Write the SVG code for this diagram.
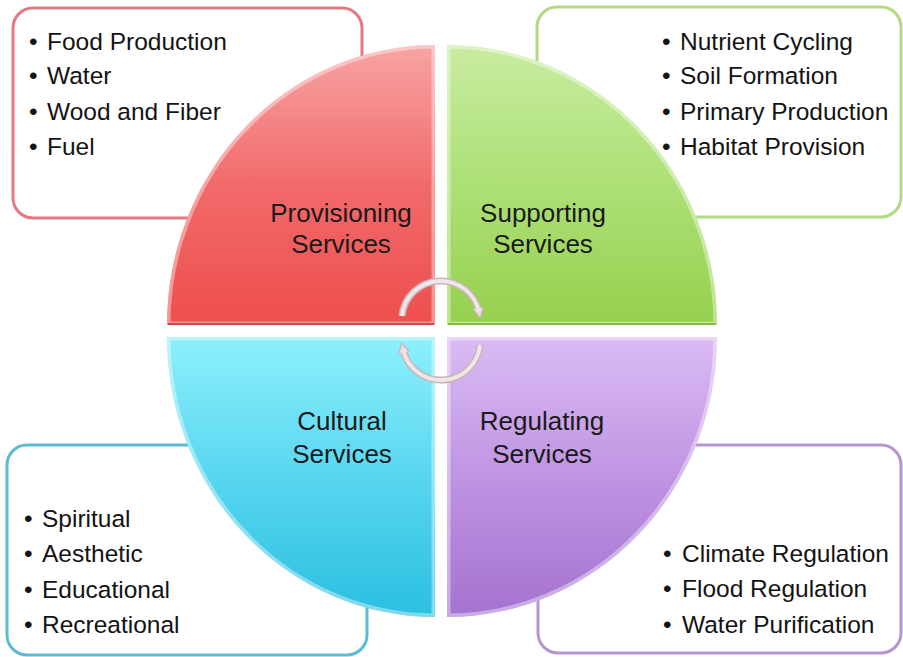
<svg xmlns="http://www.w3.org/2000/svg" width="903" height="657" viewBox="0 0 903 657">
<style>
.box{fill:#ffffff;stroke-width:3}
.item{font-family:"Liberation Sans",Arial,sans-serif;font-size:24.5px;fill:#131313}
.label{font-family:"Liberation Sans",Arial,sans-serif;font-size:26px;fill:#1a1a1a;text-anchor:middle}
.bevel{fill:none;stroke:#ffffff;stroke-opacity:0.4;stroke-width:7}
.arc-out{fill:none;stroke:#c9b4b8;stroke-width:7;stroke-linecap:butt}
.arc-in{fill:none;stroke:#efe6e8;stroke-width:4;stroke-linecap:butt}
</style>
<defs>
<linearGradient id="gRed" x1="0" y1="0" x2="0" y2="1">
<stop offset="0" stop-color="#f8a4a4"/><stop offset="0.5" stop-color="#f26a6a"/><stop offset="1" stop-color="#ee4e4e"/>
</linearGradient>
<linearGradient id="gGreen" x1="0" y1="0" x2="0" y2="1">
<stop offset="0" stop-color="#c8eca0"/><stop offset="0.5" stop-color="#ade076"/><stop offset="1" stop-color="#96d04e"/>
</linearGradient>
<linearGradient id="gCyan" x1="0" y1="0" x2="0" y2="1">
<stop offset="0" stop-color="#8ef0fc"/><stop offset="0.5" stop-color="#58d6f0"/><stop offset="1" stop-color="#2abfe0"/>
</linearGradient>
<linearGradient id="gPurple" x1="0" y1="0" x2="0" y2="1">
<stop offset="0" stop-color="#dbbbf4"/><stop offset="0.5" stop-color="#bf94e2"/><stop offset="1" stop-color="#a472d0"/>
</linearGradient>
<clipPath id="cRed"><path d="M435,325 L167,325 A268,280 0 0 1 435,45 Z"/></clipPath>
<clipPath id="cGreen"><path d="M447,325 L447,45 A270,280 0 0 1 717,325 Z"/></clipPath>
<clipPath id="cCyan"><path d="M435,337 L435,617 A268,280 0 0 1 167,337 Z"/></clipPath>
<clipPath id="cPurple"><path d="M447,337 L717,337 A270,280 0 0 1 447,617 Z"/></clipPath>
<marker id="head" viewBox="0 0 10 10" refX="4" refY="5" markerWidth="11" markerHeight="11" markerUnits="userSpaceOnUse" orient="auto">
<path d="M0,0 L10,5 L0,10 Z" fill="#e6dadd" stroke="#c9b4b8" stroke-width="1"/>
</marker>
</defs>
<rect width="903" height="657" fill="#ffffff"/>

<g id="provisioning-list">
<rect class="box" x="13" y="8" width="349" height="210" rx="20" stroke="#e27a82"/>
<text class="item" x="29" y="50">•<tspan x="47">Food Production</tspan></text>
<text class="item" x="29" y="84">•<tspan x="47">Water</tspan></text>
<text class="item" x="29" y="120">•<tspan x="47">Wood and Fiber</tspan></text>
<text class="item" x="29" y="155">•<tspan x="47">Fuel</tspan></text>
</g>
<g id="supporting-list">
<rect class="box" x="537" y="7" width="364" height="210" rx="20" stroke="#b2da80"/>
<text class="item" x="662" y="50">•<tspan x="680">Nutrient Cycling</tspan></text>
<text class="item" x="662" y="84">•<tspan x="680">Soil Formation</tspan></text>
<text class="item" x="662" y="120">•<tspan x="680">Primary Production</tspan></text>
<text class="item" x="662" y="155">•<tspan x="680">Habitat Provision</tspan></text>
</g>
<g id="cultural-list">
<rect class="box" x="7" y="445" width="360" height="210" rx="20" stroke="#5cbcd4"/>
<text class="item" x="24" y="527">•<tspan x="42">Spiritual</tspan></text>
<text class="item" x="24" y="562">•<tspan x="42">Aesthetic</tspan></text>
<text class="item" x="24" y="598">•<tspan x="42">Educational</tspan></text>
<text class="item" x="24" y="633">•<tspan x="42">Recreational</tspan></text>
</g>
<g id="regulating-list">
<rect class="box" x="538" y="445" width="363" height="208" rx="20" stroke="#b496cc"/>
<text class="item" x="663" y="562">•<tspan x="682">Climate Regulation</tspan></text>
<text class="item" x="663" y="597">•<tspan x="682">Flood Regulation</tspan></text>
<text class="item" x="663" y="633">•<tspan x="682">Water Purification</tspan></text>
</g>

<g id="provisioning">
<path d="M435,325 L167,325 A268,280 0 0 1 435,45 Z" fill="url(#gRed)"/>
<path class="bevel" clip-path="url(#cRed)" d="M435,325 L167,325 A268,280 0 0 1 435,45 Z"/>
<path d="M168,324 L434,324" stroke="#d84444" stroke-width="2" fill="none"/>
<text class="label" x="341" y="222">Provisioning</text>
<text class="label" x="341" y="253">Services</text>
</g>
<g id="supporting">
<path d="M447,325 L447,45 A270,280 0 0 1 717,325 Z" fill="url(#gGreen)"/>
<path class="bevel" clip-path="url(#cGreen)" d="M447,325 L447,45 A270,280 0 0 1 717,325 Z"/>
<path d="M448,324 L716,324" stroke="#84bd42" stroke-width="2" fill="none"/>
<text class="label" x="543" y="222">Supporting</text>
<text class="label" x="543" y="253">Services</text>
</g>
<g id="cultural">
<path d="M435,337 L435,617 A268,280 0 0 1 167,337 Z" fill="url(#gCyan)"/>
<path class="bevel" clip-path="url(#cCyan)" d="M435,337 L435,617 A268,280 0 0 1 167,337 Z"/>
<text class="label" x="342" y="430">Cultural</text>
<text class="label" x="342" y="463">Services</text>
</g>
<g id="regulating">
<path d="M447,337 L717,337 A270,280 0 0 1 447,617 Z" fill="url(#gPurple)"/>
<path class="bevel" clip-path="url(#cPurple)" d="M447,337 L717,337 A270,280 0 0 1 447,617 Z"/>
<text class="label" x="542" y="430">Regulating</text>
<text class="label" x="542" y="463">Services</text>
</g>

<g id="connectors">
<path class="arc-out" d="M402,316 A39,39 0 0 1 479,312" marker-end="url(#head)"/>
<path class="arc-in" d="M402,316 A39,39 0 0 1 479,312"/>
<path class="arc-out" d="M480,345 A39,39 0 0 1 403,349" marker-end="url(#head)"/>
<path class="arc-in" d="M480,345 A39,39 0 0 1 403,349"/>
</g>
</svg>
